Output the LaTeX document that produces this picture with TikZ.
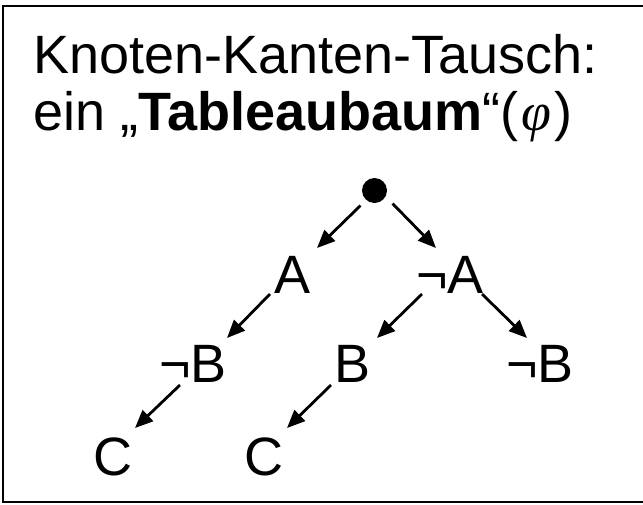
\documentclass[tikz,border=0pt]{standalone}
\usepackage{fontspec}
\setmainfont{Liberation Sans}
\newfontfamily\phifont{Liberation Serif}
\usetikzlibrary{calc,arrows.meta}
\begin{document}
\begin{tikzpicture}[x=1pt,y=-1pt,
  lbl/.style={font=\fontsize{54}{57}\selectfont, inner sep=0pt, anchor=base},
  ttl/.style={font=\fontsize{54}{57}\selectfont, inner sep=0pt, anchor=base west},
  arr/.style={line width=2.8pt, -{Triangle[length=18pt,width=15pt]}},
  frame/.style={line width=2pt}]
\useasboundingbox (0,0) rectangle (643,504);
\draw[frame] (648,6) -- (3,6) -- (3,502) -- (648,502);
\node[ttl] (t1) at (33,73) {Knoten-Kanten-Tausch:};
\node[ttl] (t2) at (33,130) {ein „\textbf{Tableaubaum}“({\phifont\itshape\kern3pt φ\kern3pt})};
\node[circle, fill=black, inner sep=0pt, minimum size=25pt] (root) at (374.5,190.5) {};
\node[lbl] (A) at (293,293) {A};
\node[lbl] (nA) at (450,293) {¬A};
\node[lbl] (nB1) at (193,382) {¬B};
\node[lbl] (B2) at (353,382) {B};
\node[lbl] (nB3) at (540,382) {¬B};
\node[lbl] (C1) at (113,475) {C};
\node[lbl] (C2) at (264,475) {C};
\draw[arr] ($(root.center)+(-14,15)$) -- ($(A.base)+(24,-45)$);
\draw[arr] ($(root.center)+(18,13)$) -- ($(nA.base)+(-14,-45)$);
\draw[arr] ($(A.base)+(-23,1)$) -- ($(nB1.base)+(34,-44)$);
\draw[arr] ($(nA.base)+(-28,1)$) -- ($(B2.base)+(24,-44)$);
\draw[arr] ($(nA.base)+(32,1)$) -- ($(nB3.base)+(-13,-44)$);
\draw[arr] ($(nB1.base)+(-13,3)$) -- ($(C1.base)+(22,-47)$);
\draw[arr] ($(B2.base)+(-22,3)$) -- ($(C2.base)+(23,-47)$);
\end{tikzpicture}
\end{document}
